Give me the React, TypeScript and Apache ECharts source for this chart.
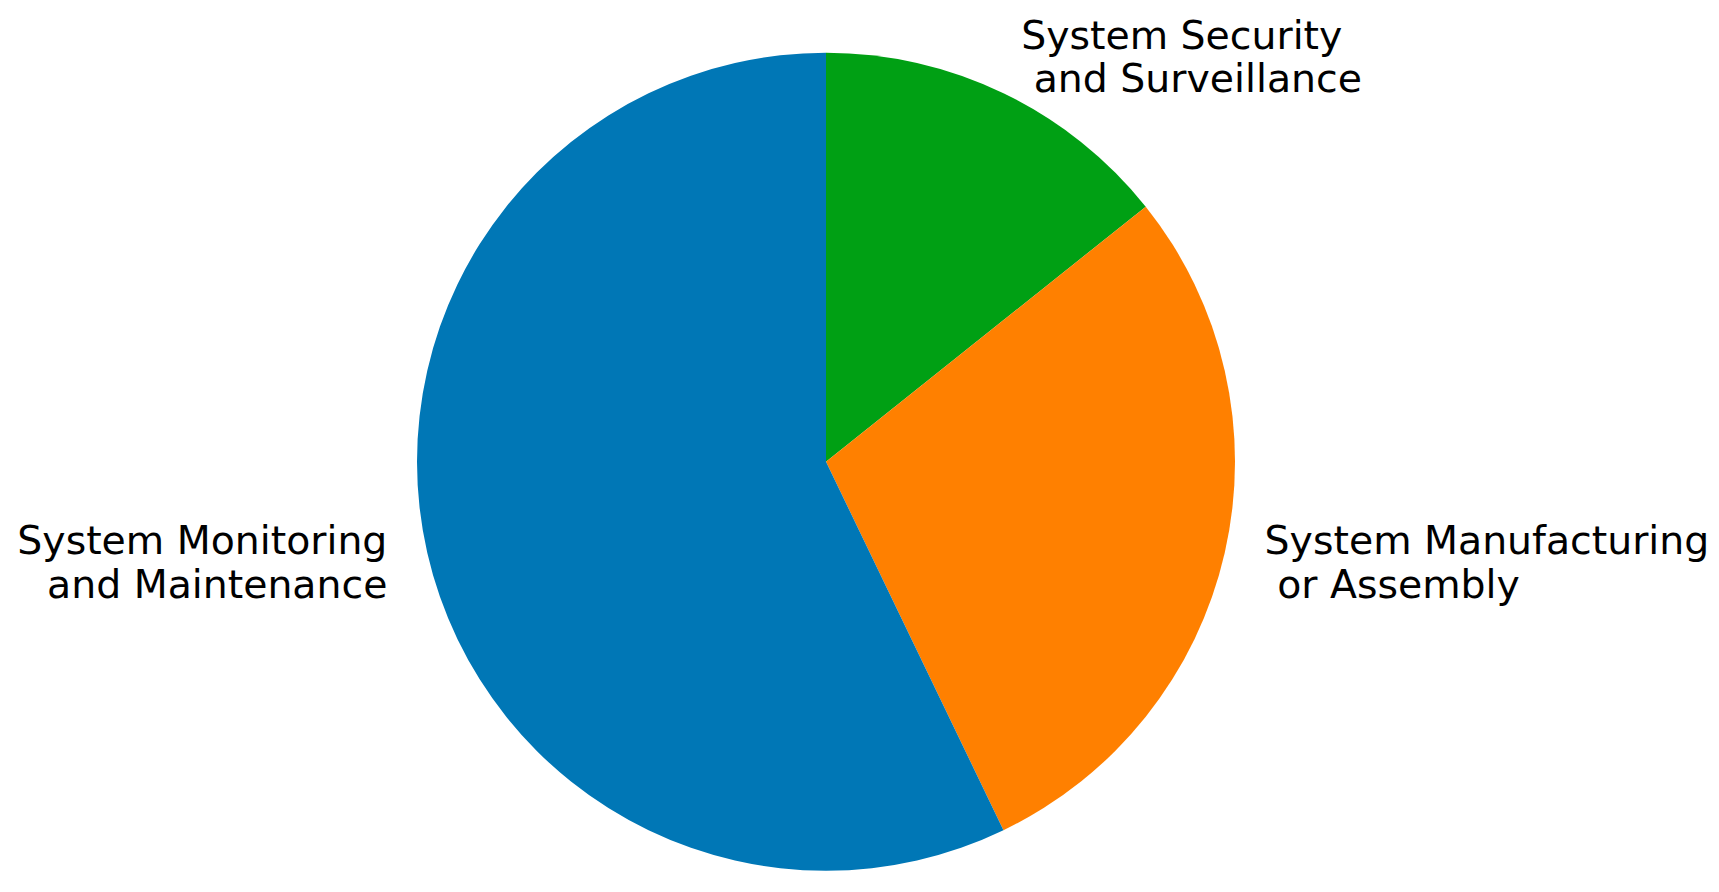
import React, { useEffect, useRef } from "react";
import * as echarts from "echarts";

const categories = [
  "System Security\n and Surveillance",
  "System Manufacturing\n or Assembly",
  "System Monitoring\nand Maintenance",
];
const values = [1, 2, 4];
const colors = ["#00A014", "#FF8000", "#0077B6"];

const W = 1719;
const H = 892;
const CX = 826;
const CY = 461.7;
const R = 409;

export default function App() {
  const ref = useRef<HTMLDivElement>(null);
  useEffect(() => {
    if (!ref.current) return;
    const chart = echarts.init(ref.current, undefined, { renderer: "svg" });
    const total = values.reduce((a, b) => a + b, 0);
    const mids: number[] = [];
    let cum = 0;
    values.forEach((v) => {
      mids.push(((cum + v / 2) / total) * 2 * Math.PI);
      cum += v;
    });
    chart.setOption({
      animation: false,
      backgroundColor: "#ffffff",
      series: [
        {
          type: "pie",
          center: [CX, CY],
          radius: [0, R],
          startAngle: 90,
          clockwise: true,
          silent: true,
          avoidLabelOverlap: false,
          itemStyle: { borderWidth: 0 },
          label: {
            show: true,
            position: "outside",
            overflow: "none",
            edgeDistance: 0,
            fontFamily: "DejaVu Sans",
            fontSize: 39.4,
            lineHeight: 43.5,
            color: "#000000",
            formatter: (p: any) => categories[p.dataIndex],
          },
          labelLine: { show: false },
          labelLayout: (p: any) => {
            const a = mids[p.dataIndex];
            const x = CX + 1.1 * R * Math.sin(a);
            const y = CY - 1.1 * R * Math.cos(a);
            return {
              x,
              y,
              align: x >= CX ? "left" : "right",
              verticalAlign: "middle",
            };
          },
          data: values.map((v, i) => ({
            value: v,
            name: categories[i],
            itemStyle: { color: colors[i] },
          })),
        },
      ],
    });
    return () => chart.dispose();
  }, []);
  return (
    <div
      ref={ref}
      style={{ position: "fixed", left: 0, top: 0, width: W, height: H }}
    />
  );
}
